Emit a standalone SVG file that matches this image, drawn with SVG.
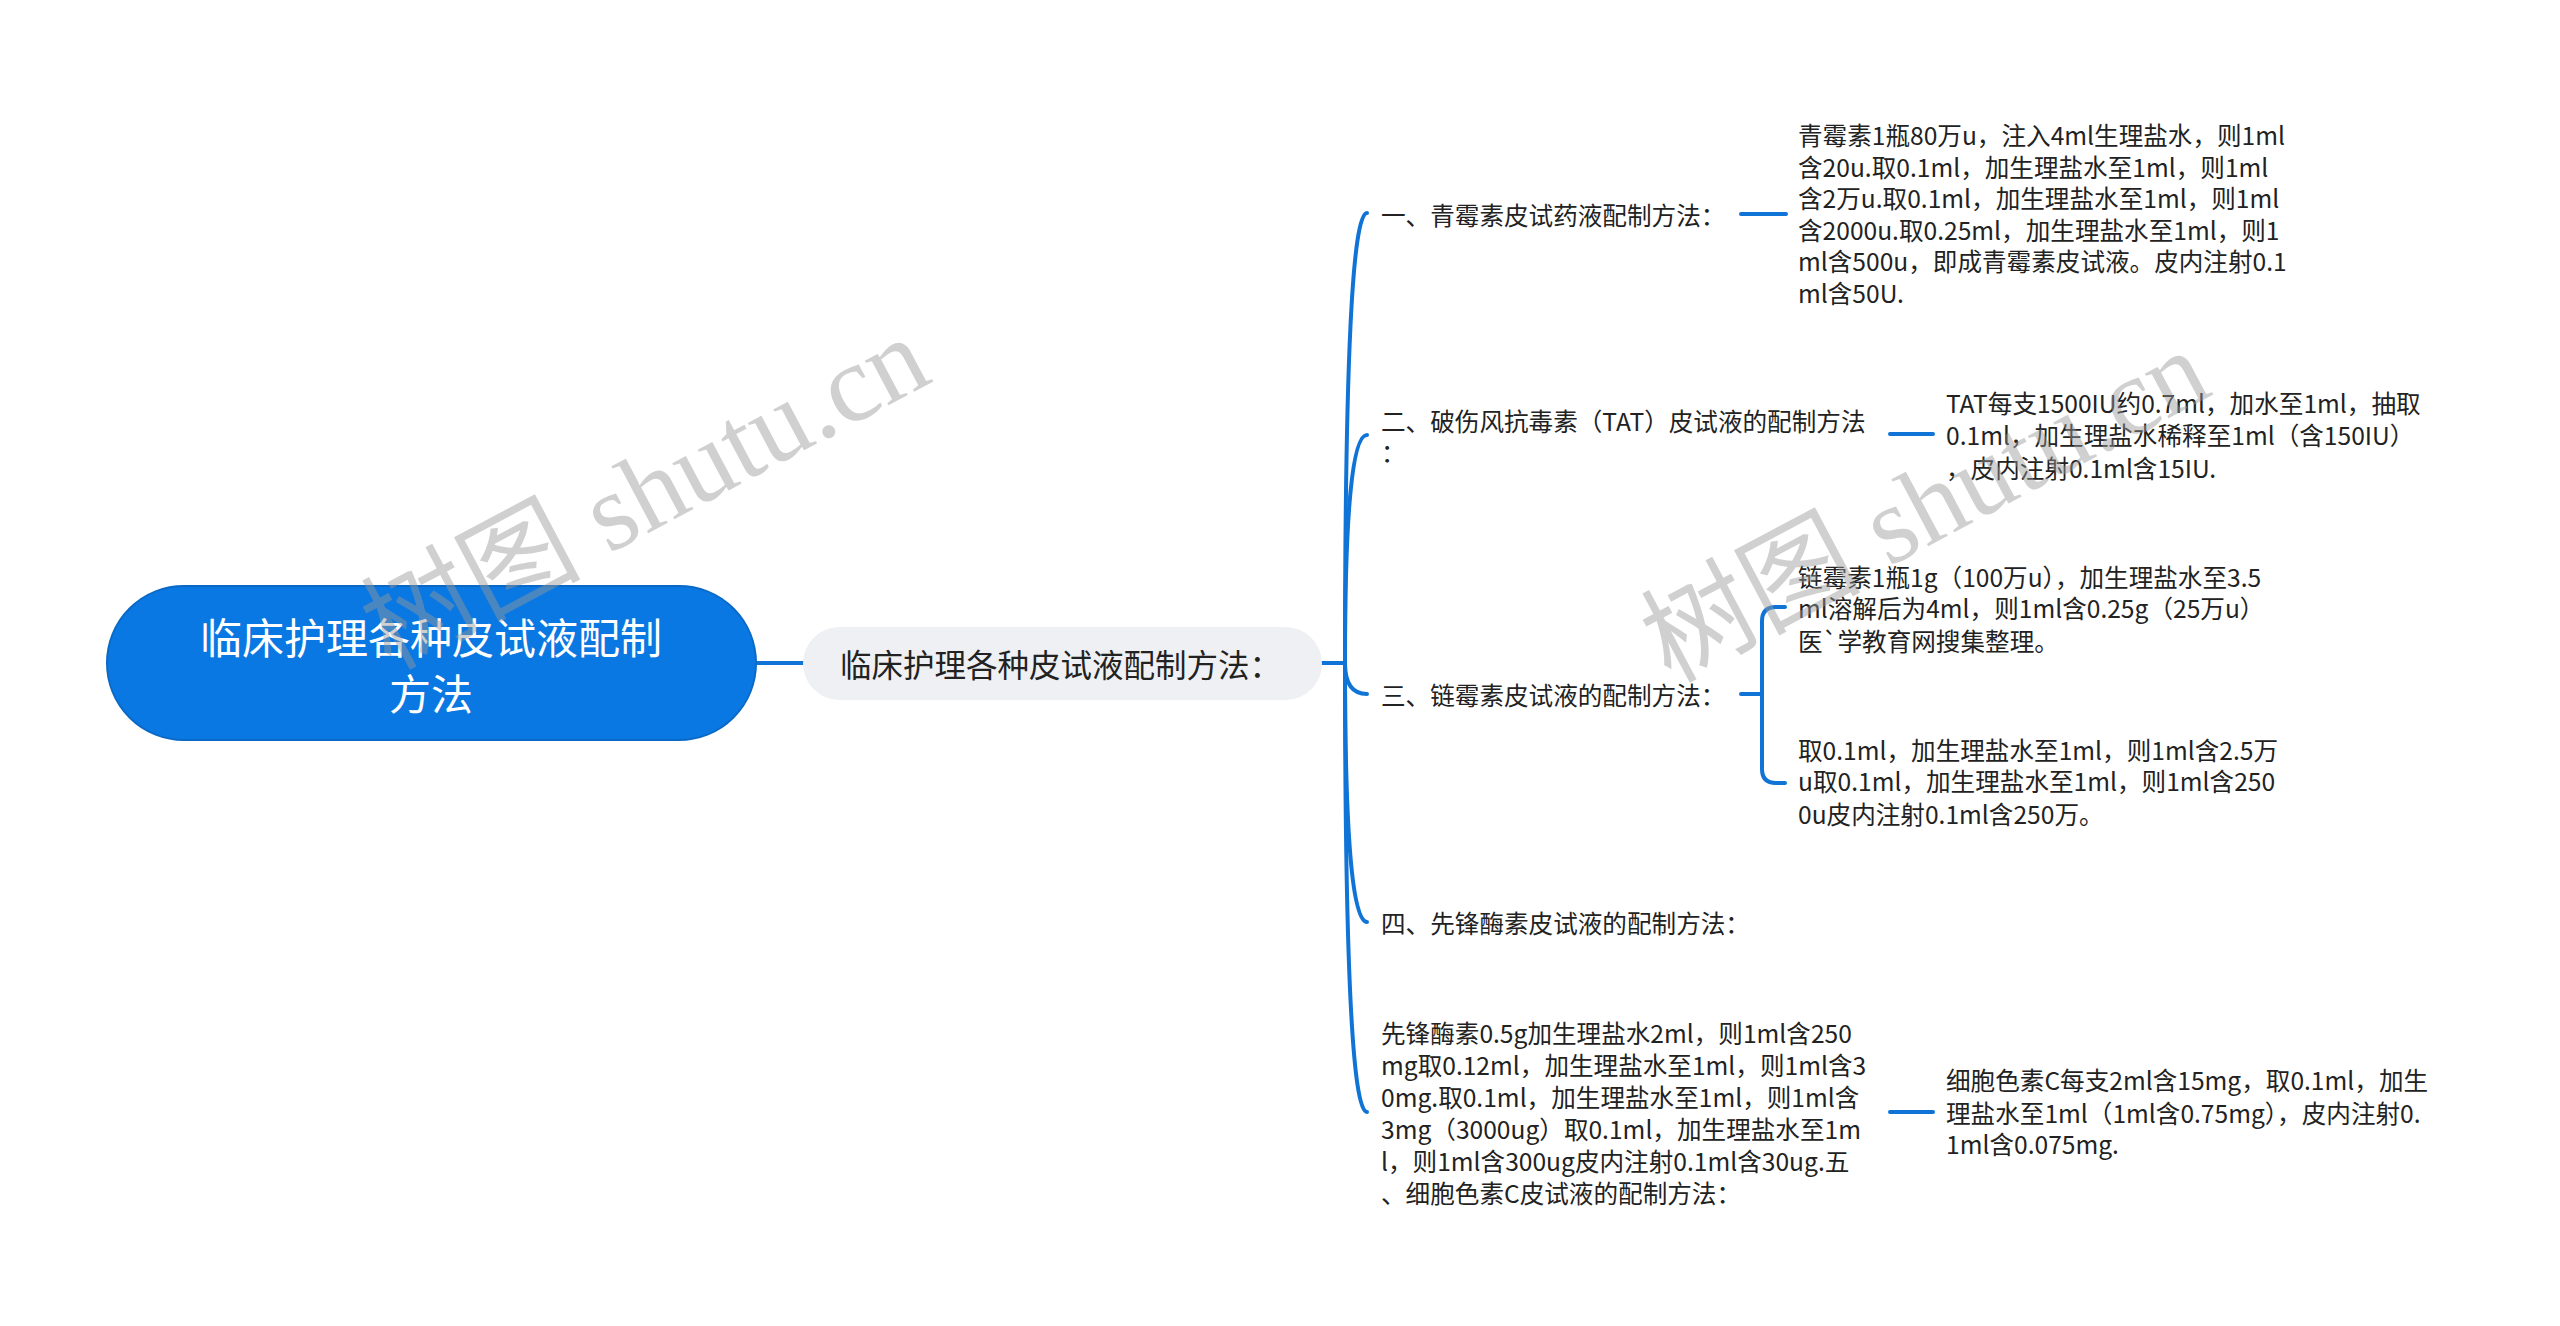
<svg xmlns="http://www.w3.org/2000/svg" width="2560" height="1326" viewBox="0 0 2560 1326">
<style>
.t{font-family:"Microsoft YaHei","Noto Sans CJK SC","Noto Sans",sans-serif;fill:#222;dominant-baseline:central}
.l2{font-size:24.6px}
.lf{font-size:24.6px}
.root{font-size:42px;fill:#fff;text-anchor:middle}
.sub{font-size:31.5px}
.c{fill:none;stroke:#0f74d6;stroke-width:4;stroke-linecap:round;stroke-linejoin:round}
.wm{font-family:"Liberation Serif","Noto Sans CJK SC",serif;font-size:110px;fill:#999;opacity:0.45}
</style>
<rect width="2560" height="1326" fill="#fff"/>
<g id="connectors">
<path class="c" d="M756,663 H803"/>
<path class="c" d="M1322,663 H1345"/>
<path class="c" d="M1345,663 Q1345,213 1367,213"/>
<path class="c" d="M1345,663 Q1345,435 1367,435"/>
<path class="c" d="M1345,663 Q1345,694 1367,694"/>
<path class="c" d="M1345,663 Q1345,922 1367,922"/>
<path class="c" d="M1345,663 Q1345,1112 1367,1112"/>
<path class="c" d="M1741,214 H1786"/>
<path class="c" d="M1890,434 H1933"/>
<path class="c" d="M1741,694 H1762"/>
<path class="c" d="M1785,607 H1776 Q1762,607 1762,621 V769 Q1762,783 1776,783 H1785"/>
<path class="c" d="M1890,1112 H1933"/>
</g>
<g id="root">
<rect x="107" y="586" width="649" height="154" rx="77" fill="#0a78e2" stroke="#0a69c6" stroke-width="2"/>
<text class="t root" x="431" y="635">临床护理各种皮试液配制</text>
<text class="t root" x="431" y="691">方法</text>
</g>
<g id="sub">
<rect x="803" y="627" width="519" height="73" rx="36.5" fill="#eef0f3"/>
<text class="t sub" x="840" y="663">临床护理各种皮试液配制方法：</text>
</g>
<g id="b1">
<text class="t l2" x="1381" y="214">一、青霉素皮试药液配制方法：</text>
</g>
<g id="b1leaf">
<text class="t lf" x="1798" y="134">青霉素1瓶80万u，注入4ml生理盐水，则1ml</text>
<text class="t lf" x="1798" y="165.6">含20u.取0.1ml，加生理盐水至1ml，则1ml</text>
<text class="t lf" x="1798" y="197.2">含2万u.取0.1ml，加生理盐水至1ml，则1ml</text>
<text class="t lf" x="1798" y="228.8">含2000u.取0.25ml，加生理盐水至1ml，则1</text>
<text class="t lf" x="1798" y="260.4">ml含500u，即成青霉素皮试液。皮内注射0.1</text>
<text class="t lf" x="1798" y="292">ml含50U.</text>
</g>
<g id="b2">
<text class="t l2" x="1381" y="420">二、破伤风抗毒素（TAT）皮试液的配制方法</text>
<text class="t l2" x="1381" y="451">：</text>
</g>
<g id="b2leaf">
<text class="t lf" x="1946" y="402">TAT每支1500IU约0.7ml，加水至1ml，抽取</text>
<text class="t lf" x="1946" y="434">0.1ml，加生理盐水稀释至1ml（含150IU）</text>
<text class="t lf" x="1946" y="467">，皮内注射0.1ml含15IU.</text>
</g>
<g id="b3">
<text class="t l2" x="1381" y="694">三、链霉素皮试液的配制方法：</text>
</g>
<g id="b3leafa">
<text class="t lf" x="1798" y="576">链霉素1瓶1g（100万u），加生理盐水至3.5</text>
<text class="t lf" x="1798" y="607">ml溶解后为4ml，则1ml含0.25g（25万u）</text>
<text class="t lf" x="1798" y="640">医`学教育网搜集整理。</text>
</g>
<g id="b3leafb">
<text class="t lf" x="1798" y="749">取0.1ml，加生理盐水至1ml，则1ml含2.5万</text>
<text class="t lf" x="1798" y="780">u取0.1ml，加生理盐水至1ml，则1ml含250</text>
<text class="t lf" x="1798" y="813">0u皮内注射0.1ml含250万。</text>
</g>
<g id="b4">
<text class="t l2" x="1381" y="922">四、先锋酶素皮试液的配制方法：</text>
</g>
<g id="b5">
<text class="t l2" x="1381" y="1032">先锋酶素0.5g加生理盐水2ml，则1ml含250</text>
<text class="t l2" x="1381" y="1064">mg取0.12ml，加生理盐水至1ml，则1ml含3</text>
<text class="t l2" x="1381" y="1096">0mg.取0.1ml，加生理盐水至1ml，则1ml含</text>
<text class="t l2" x="1381" y="1128">3mg（3000ug）取0.1ml，加生理盐水至1m</text>
<text class="t l2" x="1381" y="1160">l，则1ml含300ug皮内注射0.1ml含30ug.五</text>
<text class="t l2" x="1381" y="1192">、细胞色素C皮试液的配制方法：</text>
</g>
<g id="b5leaf">
<text class="t lf" x="1946" y="1079">细胞色素C每支2ml含15mg，取0.1ml，加生</text>
<text class="t lf" x="1946" y="1112">理盐水至1ml（1ml含0.75mg），皮内注射0.</text>
<text class="t lf" x="1946" y="1143">1ml含0.075mg.</text>
</g>
<g id="watermarks">
<text class="wm" transform="translate(645,493) rotate(-28)" text-anchor="middle" dominant-baseline="central">树图 shutu.cn</text>
<text class="wm" transform="translate(1925,506) rotate(-28)" text-anchor="middle" dominant-baseline="central">树图 shutu.cn</text>
</g>
</svg>
